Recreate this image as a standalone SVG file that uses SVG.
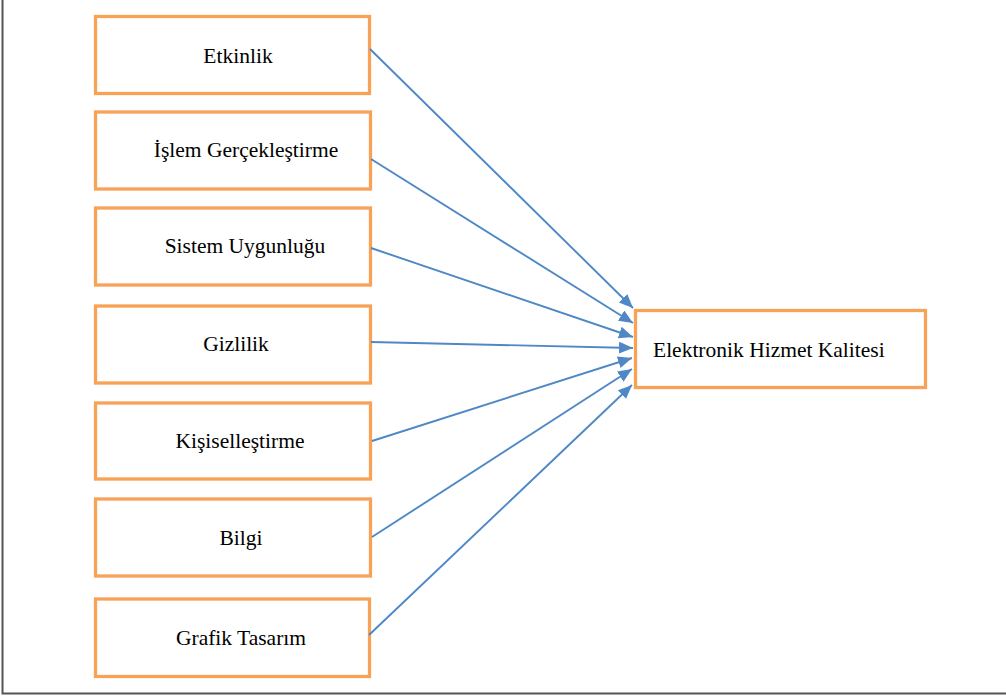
<svg xmlns="http://www.w3.org/2000/svg" width="1006" height="696" viewBox="0 0 1006 696">
<defs>
<style>
.box{fill:#fff;stroke:#F8A257;stroke-width:3.3}
.lbl{font-family:"Liberation Serif","Times New Roman",serif;font-size:21.5px;fill:#000}
.conn{stroke:#4F88C6;stroke-width:1.9;fill:none}
</style>
<marker id="ah" markerUnits="userSpaceOnUse" markerWidth="16" markerHeight="14" refX="14" refY="6" orient="auto">
<path d="M0,0 L14,6 L0,12 z" fill="#4F88C6"/>
</marker>
</defs>
<rect width="1006" height="696" fill="#fff"/>
<path d="M2.5,0 V693.5 H1006" fill="none" stroke="#555" stroke-width="2"/>
<g id="n1"><rect class="box" x="95.5" y="16.5" width="274" height="77"/><text class="lbl" x="238" y="63" text-anchor="middle">Etkinlik</text></g>
<g id="n2"><rect class="box" x="95.5" y="112" width="275" height="77"/><text class="lbl" x="246" y="157" text-anchor="middle">İşlem Gerçekleştirme</text></g>
<g id="n3"><rect class="box" x="95.5" y="208" width="275" height="77"/><text class="lbl" x="245" y="253" text-anchor="middle">Sistem Uygunluğu</text></g>
<g id="n4"><rect class="box" x="95.5" y="306" width="275" height="77"/><text class="lbl" x="236" y="351" text-anchor="middle">Gizlilik</text></g>
<g id="n5"><rect class="box" x="95.5" y="403" width="275" height="76"/><text class="lbl" x="240" y="448" text-anchor="middle">Kişiselleştirme</text></g>
<g id="n6"><rect class="box" x="95.5" y="499" width="275" height="77"/><text class="lbl" x="241" y="545" text-anchor="middle">Bilgi</text></g>
<g id="n7"><rect class="box" x="95.5" y="599" width="274" height="77.5"/><text class="lbl" x="241" y="645" text-anchor="middle">Grafik Tasarım</text></g>
<g id="target"><rect class="box" x="635.5" y="310.5" width="290" height="77"/><text class="lbl" x="653" y="357">Elektronik Hizmet Kalitesi</text></g>
<g id="connectors">
<line class="conn" x1="370" y1="49" x2="633" y2="308" marker-end="url(#ah)"/>
<line class="conn" x1="371" y1="159" x2="633" y2="323" marker-end="url(#ah)"/>
<line class="conn" x1="371" y1="248" x2="633" y2="337" marker-end="url(#ah)"/>
<line class="conn" x1="371" y1="342" x2="633" y2="348" marker-end="url(#ah)"/>
<line class="conn" x1="372" y1="441" x2="632" y2="358" marker-end="url(#ah)"/>
<line class="conn" x1="372" y1="537" x2="632" y2="369" marker-end="url(#ah)"/>
<line class="conn" x1="369" y1="635" x2="632" y2="385" marker-end="url(#ah)"/>
</g>
</svg>
